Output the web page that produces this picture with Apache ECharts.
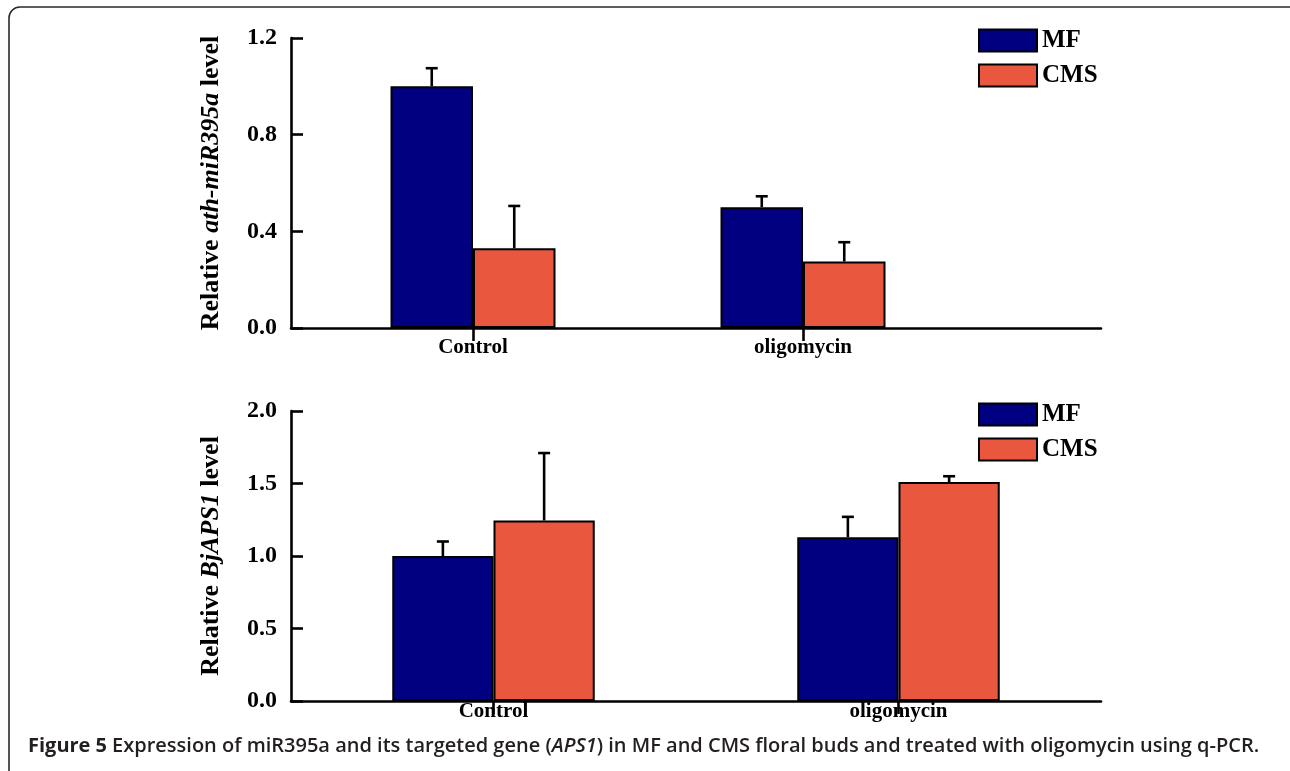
<!DOCTYPE html>
<html><head><meta charset="utf-8">
<script src="https://cdn.jsdelivr.net/npm/echarts@6/dist/echarts.min.js"></script>
<style>html,body{margin:0;padding:0;background:#fff}#c{width:1290px;height:771px}</style>
</head><body><div id="c"></div>
<script>
// ---- data ----
const categories = ['Control', 'oligomycin'];
const seriesNames = ['MF', 'CMS'];
// top panel: Relative ath-miR395a level
const topMF = [1.00, 0.50];
const topMFErr = [0.075, 0.045];
const topCMS = [0.33, 0.275];
const topCMSErr = [0.175, 0.08];
// bottom panel: Relative BjAPS1 level
const botMF = [1.00, 1.13];
const botMFErr = [0.10, 0.14];
const botCMS = [1.245, 1.51];
const botCMSErr = [0.465, 0.04];
const topYTicks = [0, 0.4, 0.8, 1.2];
const botYTicks = [0, 0.5, 1.0, 1.5, 2.0];

const MF_COLOR = '#000080';
const CMS_COLOR = '#E8573E';
const SERIF = '"Liberation Serif", "Times New Roman", serif';

function errSeries(name, xIdx, yIdx, vals, errs, side) {
  return {
    type: 'custom', name: name, xAxisIndex: xIdx, yAxisIndex: yIdx, z: 1,
    silent: true,
    data: vals.map((v, i) => [i, v, errs[i]]),
    renderItem: function (params, api) {
      const x = api.value(0), v = api.value(1), e = api.value(2);
      const bw = api.size([1, 0])[0];
      const off = side * bw * 0.125;
      const p0 = api.coord([x, v]);
      const p1 = api.coord([x, v + e]);
      const cx = p0[0] + off;
      const st = { stroke: '#000', lineWidth: 2.6 };
      return {
        type: 'group', children: [
          { type: 'line', shape: { x1: cx, y1: p0[1], x2: cx, y2: p1[1] }, style: st },
          { type: 'line', shape: { x1: cx - 6, y1: p1[1], x2: cx + 6, y2: p1[1] }, style: st }
        ]
      };
    }
  };
}

function barSeries(name, xIdx, yIdx, vals, color) {
  return {
    type: 'bar', name: name, xAxisIndex: xIdx, yAxisIndex: yIdx,
    barWidth: '25%', barGap: '0%', z: 2,
    itemStyle: { color: color, borderColor: '#000', borderWidth: 2 },
    data: vals.map((v, i) => [i, v])
  };
}

const yAxisCommon = {
  type: 'value',
  nameLocation: 'middle',
  nameGap: 67,
  nameRotate: 90,
  axisLine: { show: true, onZero: false, lineStyle: { color: '#000', width: 2.6 } },
  axisTick: { show: true, inside: true, length: 12, lineStyle: { color: '#000', width: 2.6 } },
  splitLine: { show: false },
  axisLabel: { color: '#000', fontFamily: SERIF, fontWeight: 'bold', fontSize: 24, margin: 14,
               formatter: v => v.toFixed(1) }
};
const nameRich = {
  n: { fontFamily: SERIF, fontWeight: 'bold', fontSize: 26, color: '#000' },
  i: { fontFamily: SERIF, fontWeight: 'bold', fontStyle: 'italic', fontSize: 26, color: '#000' }
};

const xLabel = { color: '#000', fontFamily: SERIF, fontWeight: 'bold', fontSize: 21 };
const xLine = { show: true, onZero: false, lineStyle: { color: '#000', width: 2.6 } };
const xTick = { show: true, inside: false, length: 13, lineStyle: { color: '#000', width: 2.6 } };

const legendCommon = {
  orient: 'vertical', left: 978, itemWidth: 58, itemHeight: 22, itemGap: 10, padding: 0,
  icon: 'rect', data: seriesNames, selectedMode: false,
  textStyle: { fontFamily: SERIF, fontWeight: 'bold', fontSize: 25, color: '#000' }
};

const option = {
  backgroundColor: '#fff',
  animation: false,
  graphic: [{
    type: 'rect', shape: { x: 9, y: 7, width: 1295, height: 775, r: 11 },
    style: { fill: 'none', stroke: '#2a2a2a', lineWidth: 1.6 }, silent: true
  }],
  title: {
    left: 28, top: 736, padding: 0,
    text: '{b|Figure 5} {n|Expression of miR395a and its targeted gene (}{i|APS1}{n|) in MF and CMS floral buds and treated with oligomycin using q-PCR.}',
    textStyle: {
      rich: {
        b: { fontFamily: '"Open Sans", sans-serif', fontWeight: 'bold', fontSize: 20, color: '#231f20' },
        n: { fontFamily: '"Open Sans", sans-serif', fontWeight: 600, fontSize: 20, color: '#231f20' },
        i: { fontFamily: '"Open Sans", sans-serif', fontWeight: 600, fontStyle: 'italic', fontSize: 20, color: '#231f20' }
      }
    }
  },
  legend: [
    Object.assign({ top: 28 }, legendCommon),
    Object.assign({ top: 402 }, legendCommon)
  ],
  grid: [
    { left: 291, right: 189, top: 38, height: 290, containLabel: false },
    { left: 291, right: 189, top: 411, height: 290, containLabel: false }
  ],
  xAxis: [
    {
      gridIndex: 0, type: 'value', min: -0.5515, max: 1.903,
      axisLine: xLine,
      axisTick: Object.assign({ customValues: [0, 1] }, xTick),
      splitLine: { show: false },
      axisLabel: Object.assign({ customValues: [0, 1], margin: 9, formatter: v => categories[Math.round(v)] || '' }, xLabel)
    },
    {
      gridIndex: 1, type: 'category', data: categories, boundaryGap: true,
      axisLine: xLine,
      axisTick: Object.assign({ alignWithLabel: true }, xTick),
      axisLabel: Object.assign({ margin: 0 }, xLabel)
    }
  ],
  yAxis: [
    Object.assign({}, yAxisCommon, {
      gridIndex: 0, min: 0, max: 1.2, interval: 0.4,
      name: '{n|Relative }{i|ath-miR395a}{n| level}',
      nameTextStyle: { rich: nameRich }
    }),
    Object.assign({}, yAxisCommon, {
      gridIndex: 1, min: 0, max: 2.0, interval: 0.5,
      name: '{n|Relative }{i|BjAPS1}{n| level}',
      nameTextStyle: { rich: nameRich }
    })
  ],
  series: [
    barSeries('MF', 0, 0, topMF, MF_COLOR),
    barSeries('CMS', 0, 0, topCMS, CMS_COLOR),
    errSeries('MF err top', 0, 0, topMF, topMFErr, -1),
    errSeries('CMS err top', 0, 0, topCMS, topCMSErr, 1),
    barSeries('MF', 1, 1, botMF, MF_COLOR),
    barSeries('CMS', 1, 1, botCMS, CMS_COLOR),
    errSeries('MF err bot', 1, 1, botMF, botMFErr, -1),
    errSeries('CMS err bot', 1, 1, botCMS, botCMSErr, 1)
  ]
};

const chart = echarts.init(document.getElementById('c'), null, { renderer: 'canvas' });
chart.setOption(option);
</script>
</body></html>
